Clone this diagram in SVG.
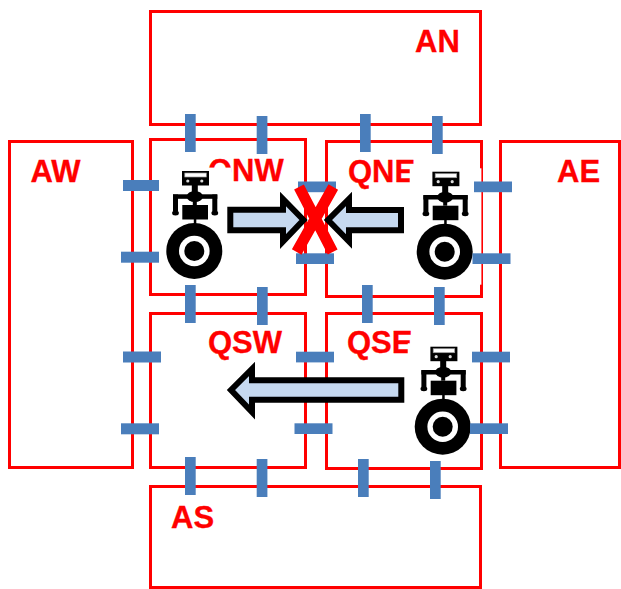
<svg xmlns="http://www.w3.org/2000/svg" width="621" height="589" viewBox="0 0 621 589">
<style>
.room{fill:none;stroke:#ff0000;stroke-width:3}
.lbl{font-family:"Liberation Sans",Arial,sans-serif;font-weight:700;font-size:31px;fill:#ff0000;stroke:#ff0000;stroke-width:0.3}
.tick{fill:#4a7ebb}
.arrow{fill:#c6d9f0;stroke:#000;stroke-width:6;stroke-miterlimit:10}
.cross{stroke:#ff0000;stroke-width:11;fill:none}
</style>
<defs>
<g id="robot">
<rect x="-35" y="-83.4" width="71.7" height="116.4" fill="#fff"/>
<rect x="-12.3" y="-80" width="27" height="14.5" fill="#000"/>
<rect x="-9.5" y="-78" width="21.5" height="4" fill="#fff" stroke="#999" stroke-width="0.7"/>
<circle cx="-6.5" cy="-70" r="1.6" fill="#ddd"/>
<circle cx="7.5" cy="-70" r="1.6" fill="#ddd"/>
<rect x="-2.5" y="-66" width="6" height="9" fill="#000"/>
<ellipse cx="0.5" cy="-54.5" rx="8" ry="5.5" fill="#000"/>
<rect x="-21.3" y="-56.7" width="44.3" height="4.5" fill="#000"/>
<rect x="-21.3" y="-56.5" width="5" height="17" fill="#000"/>
<rect x="18" y="-56.5" width="5" height="17" fill="#000"/>
<ellipse cx="-18.8" cy="-38" rx="3.4" ry="2.5" fill="#000"/>
<ellipse cx="20.5" cy="-38" rx="3.4" ry="2.5" fill="#000"/>
<rect x="-12" y="-46" width="25.7" height="14.5" fill="#000"/>
<rect x="-1.5" y="-52" width="4" height="6" fill="#000"/>
<rect x="-0.5" y="-32" width="2.5" height="5" fill="#000"/>
<circle r="28" fill="#000"/>
<circle r="15.3" fill="#fff"/>
<circle r="10" fill="#000"/>
</g>
</defs>
<g id="AN"><rect class="room" x="150.5" y="11.5" width="330" height="113"/><text class="lbl" x="415" y="51.5">AN</text></g>
<g id="AW"><rect class="room" x="9.5" y="141.5" width="123" height="326"/><text class="lbl" x="30.5" y="181.5">AW</text></g>
<g id="AE"><rect class="room" x="500.5" y="141.5" width="119" height="326"/><text class="lbl" x="557" y="182">AE</text></g>
<g id="AS"><rect class="room" x="150.5" y="486.5" width="330" height="101"/><text class="lbl" x="171" y="527.5">AS</text></g>
<g id="QNW"><rect class="room" x="150.5" y="139.5" width="155" height="155"/><text class="lbl" x="208" y="181">QNW</text></g>
<g id="QNE"><rect class="room" x="326.5" y="141.5" width="155" height="155"/><text class="lbl" x="348" y="182">QNE</text></g>
<g id="QSW"><rect class="room" x="150.5" y="313.5" width="155" height="154"/><text class="lbl" x="208" y="352.5">QSW</text></g>
<g id="QSE"><rect class="room" x="326.5" y="313.5" width="155" height="155"/><text class="lbl" x="347" y="352.5">QSE</text></g>
<g id="robot-nw"><use href="#robot" x="194.3" y="251"/></g>
<g id="robot-ne"><use href="#robot" x="444.7" y="251.7"/></g>
<g id="robot-se"><use href="#robot" x="442.7" y="426.7"/></g>
<g id="connectors">
<rect class="tick" x="185" y="114" width="10.7" height="38"/>
<rect class="tick" x="256.7" y="116" width="10.7" height="38"/>
<rect class="tick" x="360" y="114" width="10.7" height="38"/>
<rect class="tick" x="432" y="116" width="10.7" height="38"/>
<rect class="tick" x="185" y="285" width="10.7" height="38"/>
<rect class="tick" x="257" y="287" width="10.7" height="38"/>
<rect class="tick" x="362" y="285" width="10.7" height="38"/>
<rect class="tick" x="434" y="287" width="10.7" height="38"/>
<rect class="tick" x="185" y="457" width="10.7" height="38"/>
<rect class="tick" x="256.7" y="459" width="10.7" height="38"/>
<rect class="tick" x="358" y="459" width="10.7" height="38"/>
<rect class="tick" x="430" y="461" width="10.7" height="38"/>
<rect class="tick" x="123" y="180" width="36" height="11"/>
<rect class="tick" x="121" y="251.7" width="38" height="11"/>
<rect class="tick" x="123" y="351.5" width="38" height="11"/>
<rect class="tick" x="121" y="423.3" width="38" height="11"/>
<rect class="tick" x="298" y="181.5" width="38" height="10.7"/>
<rect class="tick" x="296" y="253.3" width="38" height="10.7"/>
<rect class="tick" x="296" y="351.7" width="38" height="10.7"/>
<rect class="tick" x="294.5" y="423.3" width="38" height="10.7"/>
<rect class="tick" x="474" y="181.5" width="38" height="10.7"/>
<rect class="tick" x="472.5" y="253.3" width="38" height="10.7"/>
<rect class="tick" x="472" y="351.7" width="38" height="10.7"/>
<rect class="tick" x="470" y="423.3" width="38" height="10.7"/>
<path class="arrow" d="M230.3,209.7H283V199L303.5,220L283,241.5V230.3H230.3Z"/>
<path class="arrow" d="M401,210H349V199L328,220L349,241.5V230.3H401Z"/>
<path class="arrow" d="M401.3,380.3H252V369L231,390L252,412V399.7H401.3Z"/>
</g>
<g id="cross">
<path class="cross" d="M299,187L332.7,252M333.3,187L296.7,252"/>
</g>
</svg>
